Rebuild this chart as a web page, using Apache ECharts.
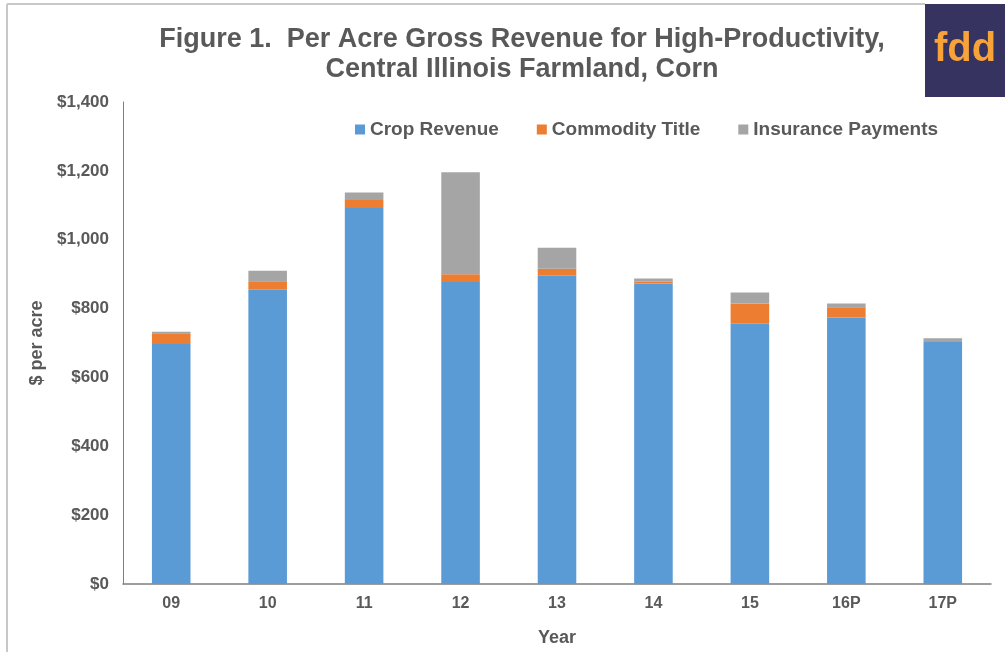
<!DOCTYPE html>
<html>
<head>
<meta charset="utf-8">
<script src="https://cdn.jsdelivr.net/npm/echarts@6/dist/echarts.min.js"></script>
<style>html,body{margin:0;padding:0;background:#fff;}#c{width:1005px;height:652px;}</style>
</head>
<body>
<div id="c"></div>
<script>
var years = ['09','10','11','12','13','14','15','16P','17P'];
var cropRevenue = [697, 855, 1092, 877, 895, 873, 756, 774, 703];
var commodityTitle = [31, 24, 23, 23, 21, 5, 59, 30, 0];
var insurancePayments = [5, 31, 22, 296, 61, 9, 32, 11, 11];
var yTicks = [0, 200, 400, 600, 800, 1000, 1200, 1400];

var chart = echarts.init(document.getElementById('c'));
var txt = '#595959';
var font = 'Liberation Sans, Arial, sans-serif';
function money(v){ return '$' + v.toLocaleString('en-US'); }
chart.setOption({
  animation: false,
  backgroundColor: '#fff',
  title: {
    text: 'Figure 1.  Per Acre Gross Revenue for High-Productivity,\nCentral Illinois Farmland, Corn',
    left: 517, top: 20, textAlign: 'center',
    textStyle: { fontFamily: font, fontSize: 27, fontWeight: 'bold', color: txt, lineHeight: 30 }
  },
  legend: {
    left: 350, top: 115, itemWidth: 10, itemHeight: 10, itemGap: 38,
    icon: 'rect',
    textStyle: { fontFamily: font, fontSize: 19, fontWeight: 'bold', color: txt },
    data: ['Crop Revenue', 'Commodity Title', 'Insurance Payments']
  },
  grid: { left: 123, right: 14, top: 102, bottom: 64 },
  xAxis: {
    type: 'category', data: years,
    name: 'Year', nameLocation: 'middle', nameGap: 45,
    nameTextStyle: { fontFamily: font, fontSize: 18, fontWeight: 'bold', color: txt },
    axisLine: { lineStyle: { color: '#7f7f7f', width: 1.5 } },
    axisTick: { show: false },
    axisLabel: { fontFamily: font, fontSize: 16, fontWeight: 'bold', color: txt, margin: 12 }
  },
  yAxis: {
    type: 'value', min: 0, max: 1400, interval: 200,
    name: '$ per acre', nameLocation: 'middle', nameGap: 77, nameRotate: 90,
    nameTextStyle: { fontFamily: font, fontSize: 18, fontWeight: 'bold', color: txt },
    axisLine: { show: true, lineStyle: { color: '#7f7f7f', width: 1 } },
    axisTick: { show: false },
    splitLine: { show: false },
    axisLabel: { fontFamily: font, fontSize: 17, fontWeight: 'bold', color: txt, margin: 14,
      formatter: function(v){ return yTicks.indexOf(v) >= 0 ? money(v) : ''; } }
  },
  series: [
    { name: 'Crop Revenue', type: 'bar', stack: 't', data: cropRevenue, barWidth: '40%', itemStyle: { color: '#5b9bd5' } },
    { name: 'Commodity Title', type: 'bar', stack: 't', data: commodityTitle, itemStyle: { color: '#ed7d31' } },
    { name: 'Insurance Payments', type: 'bar', stack: 't', data: insurancePayments, itemStyle: { color: '#a5a5a5' } }
  ],
  graphic: [
    { type: 'line', shape: { x1: 7, y1: 4, x2: 7, y2: 652 }, style: { stroke: '#c8c8c8', lineWidth: 2 } },
    { type: 'line', shape: { x1: 7, y1: 4, x2: 925, y2: 4 }, style: { stroke: '#c8c8c8', lineWidth: 2 } },
    { type: 'rect', shape: { x: 925, y: 4, width: 80, height: 93 }, style: { fill: '#363360' } },
    { type: 'text', left: 934, top: 30, style: { text: 'fdd', fill: '#f8a23a', font: 'bold 40px "Liberation Sans", Arial, sans-serif' } }
  ]
});
</script>
</body>
</html>
